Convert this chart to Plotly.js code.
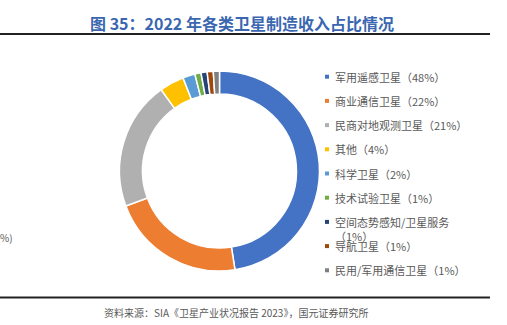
<!DOCTYPE html>
<html>
<head>
<meta charset="utf-8">
<script src="https://cdn.plot.ly/plotly-3.0.1.min.js"></script>
<style>html,body{margin:0;padding:0;background:#fff;}#chart{width:507px;height:325px;}</style>
</head>
<body>
<div id="chart"></div>
<script>
const titleText = "图 35：2022 年各类卫星制造收入占比情况";
const sourceText = "资料来源：SIA《卫星产业状况报告 2023》，国元证券研究所";
const labels = ["军用遥感卫星", "商业通信卫星", "民商对地观测卫星", "其他", "科学卫星", "技术试验卫星", "空间态势感知/卫星服务", "导航卫星", "民用/军用通信卫星"];
const values = [48, 22, 21, 4, 2, 1, 1, 1, 1];
const colors = ["#4472C4", "#ED7D31", "#B0B0B0", "#FFC000", "#5B9BD5", "#70AD47", "#264478", "#9E480E", "#7F7F7F"];

const W = 507, H = 325;
const px = x => x / W;
const py = y => 1 - y / H;
const font = '"Noto Sans CJK SC", "Noto Sans", sans-serif';

const trace = {
  type: 'pie',
  labels: labels,
  values: values,
  hole: 0.77,
  sort: false,
  direction: 'clockwise',
  rotation: 0,
  textinfo: 'none',
  hoverinfo: 'label+percent',
  showlegend: false,
  marker: {colors: colors, line: {color: '#ffffff', width: 1.5}},
  domain: {x: [px(119), px(320)], y: [py(271), py(71)]}
};

const annotations = [];
const shapes = [];
annotations.push({xref:'paper', yref:'paper', x: px(242), y: py(23), xanchor:'center', yanchor:'middle',
  text: '<b>' + titleText + '</b>', showarrow:false, font:{family:font, size:16, color:'#3A67B0'}});
annotations.push({xref:'paper', yref:'paper', x: px(236), y: py(312), xanchor:'center', yanchor:'middle',
  text: sourceText, showarrow:false, font:{family:font, size:10, color:'#595959'}});
annotations.push({xref:'paper', yref:'paper', x: px(-2), y: py(237), xanchor:'left', yanchor:'middle',
  text: '%)', showarrow:false, font:{family:font, size:10, color:'#595959'}});
shapes.push({type:'line', xref:'paper', yref:'paper', x0: 0, x1: px(490), y0: py(34), y1: py(34), line:{color:'#222', width:2}});
shapes.push({type:'line', xref:'paper', yref:'paper', x0: 0, x1: px(490), y0: py(297.5), y1: py(297.5), line:{color:'#222', width:2}});

// legend built from data
const legX = 333, legY0 = 76.7, legDy = 24.2;
labels.forEach((lab, i) => {
  const y = legY0 + i * legDy;
  shapes.push({type:'rect', xref:'paper', yref:'paper', x0: px(325), x1: px(329), y0: py(y - 2), y1: py(y + 2),
    fillcolor: colors[i], line:{width:0}});
  let txt = lab + '（' + values[i] + '%）';
  let yy = y;
  if (lab.length > 10) {
    txt = lab + '<br>（' + values[i] + '%）';
    yy = y + 7;
  }
  annotations.push({xref:'paper', yref:'paper', x: px(legX), y: py(yy), xanchor:'left', yanchor:'middle', align:'left',
    text: txt, showarrow:false, font:{family:font, size:11, color:'#595959'}});
});

const layout = {
  width: W, height: H,
  margin: {l:0, r:0, t:0, b:0},
  paper_bgcolor: '#ffffff',
  plot_bgcolor: '#ffffff',
  showlegend: false,
  annotations: annotations,
  shapes: shapes
};
Plotly.newPlot('chart', [trace], layout, {displayModeBar:false, staticPlot:true});
</script>
</body>
</html>
